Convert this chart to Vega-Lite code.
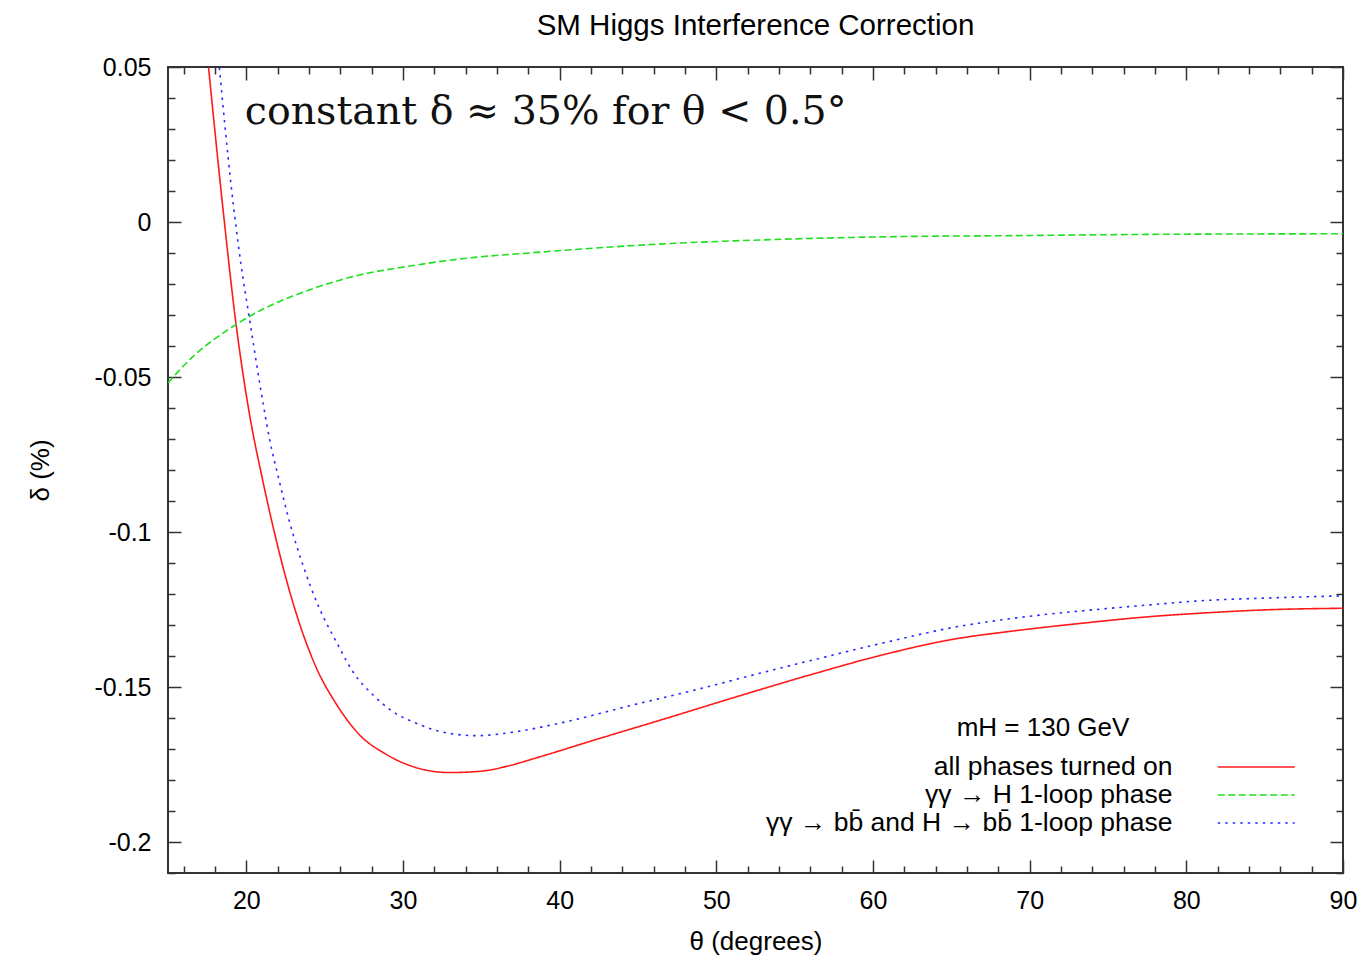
{
  "$schema": "https://vega.github.io/schema/vega-lite/v6.json",
  "width": 1175,
  "height": 806,
  "autosize": "none",
  "padding": {"left": 168, "top": 67, "right": 22, "bottom": 90},
  "background": "white",
  "title": {"text": "SM Higgs Interference Correction", "font": "Liberation Sans", "fontSize": 29.5, "fontWeight": "normal", "color": "#000", "anchor": "middle", "offset": 14},
  "config": {
    "view": {"stroke": "#333", "strokeWidth": 2},
    "axis": {"domain": false, "grid": false, "labelFont": "Liberation Sans", "labelFontSize": 25, "labelColor": "#000", "titleFont": "Liberation Sans", "titleFontSize": 26, "titleFontWeight": "normal", "titleColor": "#000", "tickColor": "#333", "tickWidth": 1.5}
  },
  "datasets": {
    "curves": [
      {"series": "all phases turned on", "theta": 17.59, "delta": 0.0498},
      {"series": "all phases turned on", "theta": 18.47, "delta": 0.0061},
      {"series": "all phases turned on", "theta": 19.34, "delta": -0.0328},
      {"series": "all phases turned on", "theta": 20.19, "delta": -0.0617},
      {"series": "all phases turned on", "theta": 21.04, "delta": -0.0832},
      {"series": "all phases turned on", "theta": 21.79, "delta": -0.1001},
      {"series": "all phases turned on", "theta": 22.54, "delta": -0.1151},
      {"series": "all phases turned on", "theta": 23.39, "delta": -0.1295},
      {"series": "all phases turned on", "theta": 24.45, "delta": -0.1436},
      {"series": "all phases turned on", "theta": 25.73, "delta": -0.1554},
      {"series": "all phases turned on", "theta": 27.22, "delta": -0.1654},
      {"series": "all phases turned on", "theta": 28.92, "delta": -0.1717},
      {"series": "all phases turned on", "theta": 31.05, "delta": -0.1763},
      {"series": "all phases turned on", "theta": 32.97, "delta": -0.1776},
      {"series": "all phases turned on", "theta": 35.09, "delta": -0.1771},
      {"series": "all phases turned on", "theta": 36.69, "delta": -0.1755},
      {"series": "all phases turned on", "theta": 38.29, "delta": -0.1732},
      {"series": "all phases turned on", "theta": 42.54, "delta": -0.1666},
      {"series": "all phases turned on", "theta": 46.81, "delta": -0.1601},
      {"series": "all phases turned on", "theta": 51.06, "delta": -0.1535},
      {"series": "all phases turned on", "theta": 56.39, "delta": -0.1455},
      {"series": "all phases turned on", "theta": 60.64, "delta": -0.1396},
      {"series": "all phases turned on", "theta": 64.9, "delta": -0.1348},
      {"series": "all phases turned on", "theta": 69.16, "delta": -0.1318},
      {"series": "all phases turned on", "theta": 73.41, "delta": -0.1294},
      {"series": "all phases turned on", "theta": 77.67, "delta": -0.1273},
      {"series": "all phases turned on", "theta": 80.87, "delta": -0.1262},
      {"series": "all phases turned on", "theta": 85.13, "delta": -0.1251},
      {"series": "all phases turned on", "theta": 90, "delta": -0.1246},
      {"series": "γγ → H 1-loop phase", "theta": 15, "delta": -0.0519},
      {"series": "γγ → H 1-loop phase", "theta": 16.57, "delta": -0.0435},
      {"series": "γγ → H 1-loop phase", "theta": 18.7, "delta": -0.0352},
      {"series": "γγ → H 1-loop phase", "theta": 20.83, "delta": -0.0287},
      {"series": "γγ → H 1-loop phase", "theta": 22.96, "delta": -0.0239},
      {"series": "γγ → H 1-loop phase", "theta": 25.09, "delta": -0.0201},
      {"series": "γγ → H 1-loop phase", "theta": 27.22, "delta": -0.0171},
      {"series": "γγ → H 1-loop phase", "theta": 30.2, "delta": -0.0144},
      {"series": "γγ → H 1-loop phase", "theta": 34.03, "delta": -0.0117},
      {"series": "γγ → H 1-loop phase", "theta": 38.29, "delta": -0.0099},
      {"series": "γγ → H 1-loop phase", "theta": 42.55, "delta": -0.0083},
      {"series": "γγ → H 1-loop phase", "theta": 46.81, "delta": -0.007},
      {"series": "γγ → H 1-loop phase", "theta": 51.06, "delta": -0.0061},
      {"series": "γγ → H 1-loop phase", "theta": 55.32, "delta": -0.0054},
      {"series": "γγ → H 1-loop phase", "theta": 61.71, "delta": -0.0047},
      {"series": "γγ → H 1-loop phase", "theta": 68.92, "delta": -0.0044},
      {"series": "γγ → H 1-loop phase", "theta": 77.46, "delta": -0.004},
      {"series": "γγ → H 1-loop phase", "theta": 90, "delta": -0.0038},
      {"series": "γγ → bb̄ and H → bb̄ 1-loop phase", "theta": 18.28, "delta": 0.0498},
      {"series": "γγ → bb̄ and H → bb̄ 1-loop phase", "theta": 19.02, "delta": 0.0122},
      {"series": "γγ → bb̄ and H → bb̄ 1-loop phase", "theta": 19.66, "delta": -0.0137},
      {"series": "γγ → bb̄ and H → bb̄ 1-loop phase", "theta": 20.19, "delta": -0.0309},
      {"series": "γγ → bb̄ and H → bb̄ 1-loop phase", "theta": 20.94, "delta": -0.0546},
      {"series": "γγ → bb̄ and H → bb̄ 1-loop phase", "theta": 21.47, "delta": -0.0697},
      {"series": "γγ → bb̄ and H → bb̄ 1-loop phase", "theta": 22.11, "delta": -0.0837},
      {"series": "γγ → bb̄ and H → bb̄ 1-loop phase", "theta": 22.75, "delta": -0.0966},
      {"series": "γγ → bb̄ and H → bb̄ 1-loop phase", "theta": 23.6, "delta": -0.1105},
      {"series": "γγ → bb̄ and H → bb̄ 1-loop phase", "theta": 24.66, "delta": -0.1246},
      {"series": "γγ → bb̄ and H → bb̄ 1-loop phase", "theta": 25.73, "delta": -0.1353},
      {"series": "γγ → bb̄ and H → bb̄ 1-loop phase", "theta": 26.79, "delta": -0.145},
      {"series": "γγ → bb̄ and H → bb̄ 1-loop phase", "theta": 28.07, "delta": -0.1525},
      {"series": "γγ → bb̄ and H → bb̄ 1-loop phase", "theta": 29.34, "delta": -0.1579},
      {"series": "γγ → bb̄ and H → bb̄ 1-loop phase", "theta": 31.05, "delta": -0.1621},
      {"series": "γγ → bb̄ and H → bb̄ 1-loop phase", "theta": 32.3, "delta": -0.1643},
      {"series": "γγ → bb̄ and H → bb̄ 1-loop phase", "theta": 34.67, "delta": -0.1657},
      {"series": "γγ → bb̄ and H → bb̄ 1-loop phase", "theta": 37.23, "delta": -0.1644},
      {"series": "γγ → bb̄ and H → bb̄ 1-loop phase", "theta": 40.42, "delta": -0.1612},
      {"series": "γγ → bb̄ and H → bb̄ 1-loop phase", "theta": 44.67, "delta": -0.1558},
      {"series": "γγ → bb̄ and H → bb̄ 1-loop phase", "theta": 48.93, "delta": -0.1506},
      {"series": "γγ → bb̄ and H → bb̄ 1-loop phase", "theta": 52.13, "delta": -0.1464},
      {"series": "γγ → bb̄ and H → bb̄ 1-loop phase", "theta": 56.39, "delta": -0.141},
      {"series": "γγ → bb̄ and H → bb̄ 1-loop phase", "theta": 60.64, "delta": -0.1358},
      {"series": "γγ → bb̄ and H → bb̄ 1-loop phase", "theta": 64.9, "delta": -0.131},
      {"series": "γγ → bb̄ and H → bb̄ 1-loop phase", "theta": 69.16, "delta": -0.1277},
      {"series": "γγ → bb̄ and H → bb̄ 1-loop phase", "theta": 73.41, "delta": -0.1254},
      {"series": "γγ → bb̄ and H → bb̄ 1-loop phase", "theta": 77.67, "delta": -0.1235},
      {"series": "γγ → bb̄ and H → bb̄ 1-loop phase", "theta": 80.87, "delta": -0.1222},
      {"series": "γγ → bb̄ and H → bb̄ 1-loop phase", "theta": 85.13, "delta": -0.1213},
      {"series": "γγ → bb̄ and H → bb̄ 1-loop phase", "theta": 90, "delta": -0.1206}
    ],
    "note": [{"label": "constant δ ≈ 35% for θ < 0.5°"}]
  },
  "resolve": {"axis": {"x": "independent", "y": "independent"}},
  "layer": [
    {
      "data": {"name": "curves"},
      "mark": {"type": "line", "interpolate": "monotone", "strokeWidth": 1.6, "clip": true},
      "encoding": {
        "x": {"field": "theta", "type": "quantitative", "scale": {"domain": [15, 90], "nice": false, "zero": false},
          "axis": {"orient": "bottom", "title": "θ (degrees)", "values": [16,18,20,22,24,26,28,30,32,34,36,38,40,42,44,46,48,50,52,54,56,58,60,62,64,66,68,70,72,74,76,78,80,82,84,86,88,90],
            "labelExpr": "round(datum.value) % 10 === 0 ? toString(datum.value) : ''",
            "tickSize": {"condition": {"test": "round(datum.value) % 10 === 0", "value": -13}, "value": -7},
            "labelPadding": 28, "labelFlush": false, "labelOverlap": false, "titleY": 68, "titleBaseline": "middle"}},
        "y": {"field": "delta", "type": "quantitative", "scale": {"domain": [-0.21, 0.05], "nice": false, "zero": false},
          "axis": {"orient": "left", "title": "δ (%)", "values": [0.05,0.04,0.03,0.02,0.01,0,-0.01,-0.02,-0.03,-0.04,-0.05,-0.06,-0.07,-0.08,-0.09,-0.1,-0.11,-0.12,-0.13,-0.14,-0.15,-0.16,-0.17,-0.18,-0.19,-0.2,-0.21],
            "labelExpr": "round(datum.value * 100) % 5 === 0 ? toString(round(datum.value * 100) / 100) : ''",
            "tickSize": {"condition": {"test": "round(datum.value * 100) % 5 === 0", "value": -13}, "value": -7},
            "labelPadding": 30, "labelFlush": false, "labelOverlap": false, "titleX": -128, "titleBaseline": "middle"}},
        "color": {"field": "series", "type": "nominal",
          "scale": {"domain": ["all phases turned on", "γγ → H 1-loop phase", "γγ → bb̄ and H → bb̄ 1-loop phase"], "range": ["#ff1a1a", "#1ee01e", "#2a2aff"]},
          "legend": {"orient": "none", "legendX": 621, "legendY": 648, "title": "mH = 130 GeV", "symbolType": "M-5,0H5", "symbolSize": 237, "symbolStrokeWidth": 1.5, "rowPadding": 1, "labelAlign": "right", "labelOffset": -97, "symbolOffset": 454, "labelLimit": 0, "labelFont": "Liberation Sans", "labelFontSize": 26.5, "labelColor": "#000", "titleFont": "Liberation Sans", "titleFontSize": 26, "titleFontWeight": "normal", "titleColor": "#000", "titleAnchor": "middle", "titlePadding": 12.75, "padding": 0}},
        "strokeDash": {"field": "series", "type": "nominal",
          "scale": {"domain": ["all phases turned on", "γγ → H 1-loop phase", "γγ → bb̄ and H → bb̄ 1-loop phase"], "range": [[1, 0], [7, 3.5], [2.5, 5]]},
          "legend": {"orient": "none", "legendX": 621, "legendY": 648, "title": "mH = 130 GeV", "symbolType": "M-5,0H5", "symbolSize": 237, "symbolStrokeWidth": 1.5, "rowPadding": 1, "labelAlign": "right", "labelOffset": -97, "symbolOffset": 454, "labelLimit": 0, "labelFont": "Liberation Sans", "labelFontSize": 26.5, "labelColor": "#000", "titleFont": "Liberation Sans", "titleFontSize": 26, "titleFontWeight": "normal", "titleColor": "#000", "titleAnchor": "middle", "titlePadding": 12.75, "padding": 0}}
      }
    },
    {
      "data": {"name": "curves"},
      "mark": {"type": "line", "opacity": 0},
      "encoding": {
        "x": {"field": "theta", "type": "quantitative",
          "axis": {"orient": "top", "title": null, "labels": false, "values": [16,18,20,22,24,26,28,30,32,34,36,38,40,42,44,46,48,50,52,54,56,58,60,62,64,66,68,70,72,74,76,78,80,82,84,86,88,90],
            "tickSize": {"condition": {"test": "round(datum.value) % 10 === 0", "value": -13}, "value": -7}}},
        "y": {"field": "delta", "type": "quantitative",
          "axis": {"orient": "right", "title": null, "labels": false, "values": [0.05,0.04,0.03,0.02,0.01,0,-0.01,-0.02,-0.03,-0.04,-0.05,-0.06,-0.07,-0.08,-0.09,-0.1,-0.11,-0.12,-0.13,-0.14,-0.15,-0.16,-0.17,-0.18,-0.19,-0.2,-0.21],
            "tickSize": {"condition": {"test": "round(datum.value * 100) % 5 === 0", "value": -13}, "value": -7}}}
      }
    },
    {
      "data": {"name": "note"},
      "mark": {"type": "text", "align": "left", "baseline": "middle", "font": "DejaVu Serif", "fontSize": 39.5, "color": "#111"},
      "encoding": {
        "x": {"datum": 19.9, "type": "quantitative", "axis": null},
        "y": {"datum": 0.0355, "type": "quantitative", "axis": null},
        "text": {"field": "label"}
      }
    }
  ]
}
